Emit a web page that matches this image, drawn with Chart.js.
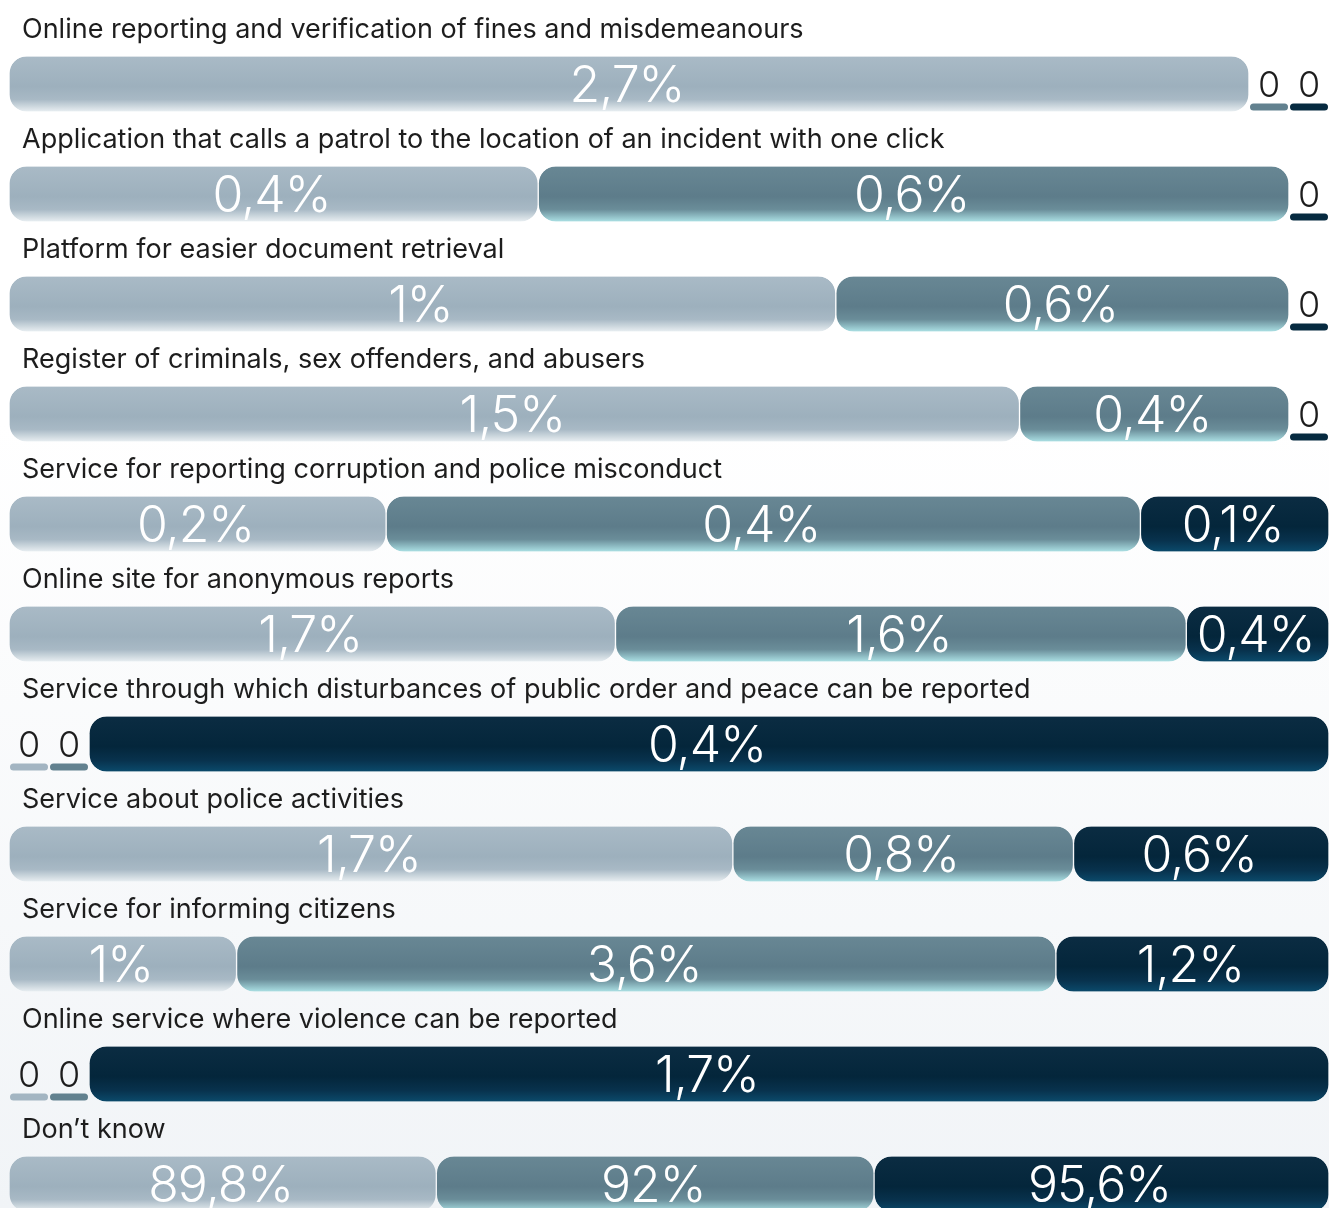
<!DOCTYPE html>
<html>
<head>
<meta charset="utf-8">
<script src="https://cdn.jsdelivr.net/npm/chart.js@4/dist/chart.umd.min.js"></script>
<style>
  html, body { margin: 0; padding: 0; width: 1329px; height: 1208px; overflow: hidden;
    background: linear-gradient(180deg, #ffffff 0%, #ffffff 35%, #f1f4f7 100%); }
  #wrap { position: absolute; left: 0; top: 0; width: 1329px; height: 1240px; }
</style>
</head>
<body>
<div id="wrap"><canvas id="c" width="1329" height="1240"></canvas></div>
<script>
const categories = [
  "Online reporting and verification of fines and misdemeanours",
  "Application that calls a patrol to the location of an incident with one click",
  "Platform for easier document retrieval",
  "Register of criminals, sex offenders, and abusers",
  "Service for reporting corruption and police misconduct",
  "Online site for anonymous reports",
  "Service through which disturbances of public order and peace can be reported",
  "Service about police activities",
  "Service for informing citizens",
  "Online service where violence can be reported",
  "Don\u2019t know"
];
// values (%) per answer group; rows 2-3 (labels are rounded)
const seriesLight = [2.7, 0.43, 1.04, 1.5, 0.2, 1.7, 0, 1.7, 1, 0, 89.8];
const seriesMid   = [0, 0.61, 0.57, 0.4, 0.4, 1.6, 0, 0.8, 3.6, 0, 92];
const seriesDark  = [0, 0, 0, 0, 0.1, 0.4, 0.4, 0.6, 1.2, 1.7, 95.6];

const allSeries = [seriesLight, seriesMid, seriesDark];
const ZERO_SHARE = 40 / 1320;

// [start, end] of each segment within its row (zeros get a small fixed slot)
function ranges(si) {
  return categories.map((_, i) => {
    const vals = allSeries.map(s => s[i]);
    const zeros = vals.filter(v => v === 0).length;
    const total = vals.reduce((a, b) => a + b, 0);
    const w = vals.map(v => v === 0 ? ZERO_SHARE : v / total * (1 - zeros * ZERO_SHARE));
    let start = 0;
    for (let k = 0; k < si; k++) start += w[k];
    return [start, start + w[si]];
  });
}

const palette = [
  { flat: '#a3b5c2', stops: [[0, '#a9bac6'], [0.55, '#9db0bd'], [0.78, '#a8b9c5'], [1, '#e8eef1']] },
  { flat: '#62818f', stops: [[0, '#688794'], [0.55, '#5d7c8a'], [0.78, '#6a8d99'], [1, '#aadfe3']] },
  { flat: '#062a40', stops: [[0, '#0b2c42'], [0.55, '#04263b'], [0.8, '#08324d'], [1, '#0b4a6b']] }
];

function bg(si) {
  return (ctx) => {
    const chart = ctx.chart;
    if (ctx.type !== 'data') return palette[si].flat;
    const raw = allSeries[si][ctx.dataIndex];
    if (raw === 0) return 'rgba(0,0,0,0)';
    if (!chart.chartArea || !chart.scales.y) return palette[si].flat;
    const cy = chart.scales.y.getPixelForValue(ctx.dataIndex);
    const g = chart.ctx.createLinearGradient(0, cy - 27.5, 0, cy + 27.5);
    palette[si].stops.forEach(s => g.addColorStop(s[0], s[1]));
    return g;
  };
}

const fmt = v => (Math.round(v * 10) / 10).toFixed(1).replace(/\.0$/, '').replace('.', ',') + '%';

const overlay = {
  id: 'overlay',
  afterDatasetsDraw(chart) {
    const ctx = chart.ctx;
    const ys = chart.scales.y;
    ctx.save();
    ctx.fillStyle = '#1d1d1d';
    ctx.font = '400 27px Inter';
    ctx.textAlign = 'left';
    ctx.textBaseline = 'alphabetic';
    categories.forEach((t, i) => ctx.fillText(t, 22, ys.getPixelForValue(i) - 46));

    chart.data.datasets.forEach((ds, di) => {
      const meta = chart.getDatasetMeta(di);
      meta.data.forEach((bar, i) => {
        const raw = allSeries[di][i];
        const p = bar.getProps(['x', 'base', 'y', 'height'], true);
        const left = Math.min(p.x, p.base), right = Math.max(p.x, p.base);
        const cx = (left + right) / 2;
        ctx.textAlign = 'center';
        if (raw === 0) {
          ctx.letterSpacing = '0px';
          ctx.fillStyle = palette[di].flat;
          ctx.beginPath();
          ctx.roundRect(left + 1, p.y + p.height / 2 - 8, right - left - 2, 7, 3.5);
          ctx.fill();
          ctx.fillStyle = '#1d1d1d';
          ctx.font = '300 36px Inter';
          ctx.fillText('0', cx, p.y + 13);
        } else {
          ctx.letterSpacing = '-1px';
          ctx.fillStyle = '#ffffff';
          ctx.font = '300 50px Inter';
          ctx.fillText(fmt(raw), cx - 2, p.y + 18);
        }
      });
    });
    ctx.restore();
  }
};

const datasets = allSeries.map((s, si) => ({
  label: ['light', 'mid', 'dark'][si],
  data: ranges(si),
  grouped: false,
  backgroundColor: bg(si),
  borderColor: 'rgba(0,0,0,0)',
  borderWidth: { left: 1, right: 1, top: 0, bottom: 0 },
  borderSkipped: false,
  borderRadius: 18,
  barThickness: 55
}));

new Chart(document.getElementById('c'), {
  type: 'bar',
  data: { labels: categories, datasets },
  options: {
    indexAxis: 'y',
    responsive: false,
    animation: false,
    layout: { padding: { left: 9, right: 0, top: 29, bottom: 1 } },
    plugins: { legend: { display: false }, tooltip: { enabled: false } },
    scales: {
      x: { min: 0, max: 1, display: false },
      y: { display: false }
    }
  },
  plugins: [overlay]
});
</script>
</body>
</html>
